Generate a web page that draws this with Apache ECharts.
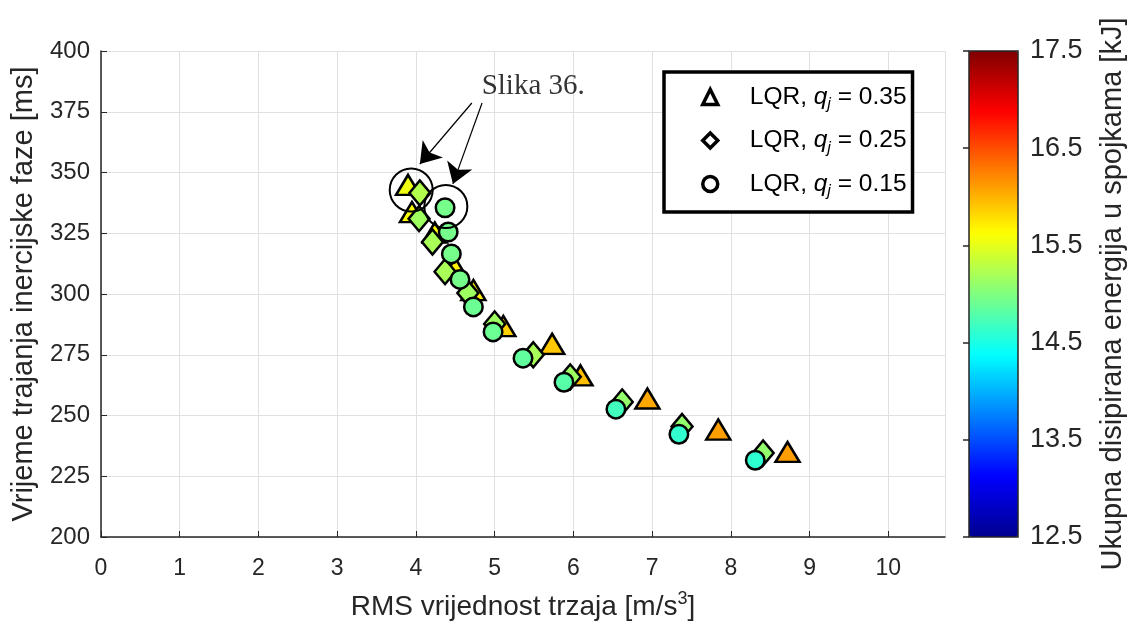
<!DOCTYPE html>
<html><head><meta charset="utf-8">
<script src="https://cdn.jsdelivr.net/npm/echarts@6/dist/echarts.min.js"></script>
<style>html,body{margin:0;padding:0;background:#fff}#c{width:1131px;height:624px}</style>
</head><body><div id="c"></div>
<script>
// ---- data ----
const seriesNames = ['LQR, qj = 0.35', 'LQR, qj = 0.25', 'LQR, qj = 0.15'];
const qVals = ['0.35', '0.25', '0.15'];

// q_j = 0.35 (triangles)
const triX = [3.90, 3.95, 4.24, 4.50, 4.73, 5.11, 5.73, 6.09, 6.94, 7.84, 8.72];
const triY = [344.9, 333.7, 325.3, 310.7, 301.6, 286.8, 279.5, 266.5, 257.0, 244.2, 235.0];
const triE = [15.55, 15.6, 15.65, 15.7, 15.7, 15.85, 15.9, 15.95, 16.05, 16.1, 16.1];

// q_j = 0.25 (diamonds)
const diaX = [4.05, 4.04, 4.21, 4.37, 4.66, 5.00, 5.49, 5.96, 6.62, 7.38, 8.41];
const diaY = [341.6, 331.0, 321.4, 309.2, 300.4, 287.7, 275.0, 265.9, 255.6, 245.5, 234.6];
const diaE = [15.25, 15.15, 15.2, 15.2, 15.15, 15.15, 15.2, 15.15, 15.1, 15.1, 15.1];

// q_j = 0.15 (circles)
const cirX = [4.37, 4.41, 4.45, 4.56, 4.73, 4.98, 5.36, 5.88, 6.54, 7.34, 8.31];
const cirY = [335.5, 325.5, 316.5, 306.0, 294.7, 284.4, 273.6, 263.7, 252.6, 242.3, 231.6];
const cirE = [14.95, 14.95, 14.95, 14.95, 14.9, 14.9, 14.85, 14.8, 14.7, 14.62, 14.6];

// axes / tick labels
const xMin = 0, xMax = 10.72, xStep = 1;
const yMin = 200, yMax = 400, yStep = 25;
const cbTicks = ['12.5', '13.5', '14.5', '15.5', '16.5', '17.5'];
const cbMin = 12.5, cbMax = 17.5;

// annotation (data coordinates)
const ringX = [3.94, 4.38];
const ringY = [342.8, 336.0];
const noteText = 'Slika 36.';
const noteX = [5.49], noteY = [385.6];
const arrowFromX = [4.71, 4.84], arrowFromY = [378.6, 378.6];
const arrowToX = [4.05, 4.47], arrowToY = [353.5, 345.3];

// ---- chart ----
const FONT = '"Liberation Sans", Arial, Helvetica, sans-serif';
const TXT = '#262626';
const jet = ['#00008f', '#0000ff', '#0080ff', '#00ffff', '#80ff80', '#ffff00', '#ff8000', '#ff0000', '#800000'];

const pts = (xs, ys, es) => xs.map((x, i) => [x, ys[i], es[i]]);

const chart = echarts.init(document.getElementById('c'), null, {renderer: 'canvas'});
const markerStyle = {borderColor: '#000', borderWidth: 2.5, opacity: 1};

const option = {
  animation: false,
  backgroundColor: '#fff',
  grid: [
    {left: 101, top: 51, width: 844, height: 486, outerBoundsMode: 'none', containLabel: false},
    {left: 969, top: 51, width: 49, height: 486, outerBoundsMode: 'none', containLabel: false,
     show: true, borderColor: TXT, borderWidth: 1.5, backgroundColor: 'transparent', z: 5}
  ],
  xAxis: [
    {gridIndex: 0, type: 'value', min: xMin, max: xMax, interval: xStep,
     axisLine: {show: true, onZero: false, lineStyle: {color: TXT, width: 1.5}},
     axisTick: {show: true, inside: true, length: 6, lineStyle: {color: TXT, width: 1}},
     axisLabel: {margin: 20, fontSize: 23, fontFamily: FONT, color: TXT, showMaxLabel: false},
     splitLine: {show: true, lineStyle: {color: '#e0e0e0', width: 1}},
     name: 'RMS vrijednost trzaja [m/s{sup|3}]', nameLocation: 'middle', nameGap: 53,
     nameTextStyle: {fontSize: 28, fontFamily: FONT, color: TXT, lineHeight: 34,
       rich: {sup: {fontSize: 18, lineHeight: 18, verticalAlign: 'top', fontFamily: FONT, color: TXT}}}},
    {gridIndex: 1, type: 'value', min: 0, max: 1, show: false}
  ],
  yAxis: [
    {gridIndex: 0, type: 'value', min: yMin, max: yMax, interval: yStep,
     axisLine: {show: true, onZero: false, lineStyle: {color: TXT, width: 1.5}},
     axisTick: {show: true, inside: true, length: 6, lineStyle: {color: TXT, width: 1}},
     axisLabel: {margin: 11, fontSize: 24, fontFamily: FONT, color: TXT},
     splitLine: {show: true, lineStyle: {color: '#e0e0e0', width: 1}},
     name: 'Vrijeme trajanja inercijske faze [ms]', nameLocation: 'middle', nameGap: 55,
     nameTextStyle: {fontSize: 29, fontFamily: FONT, color: TXT, lineHeight: 30}},
    {gridIndex: 1, type: 'value', min: 0, max: cbTicks.length - 1, interval: 1, position: 'right', z: 6,
     axisLine: {show: false},
     axisTick: {show: true, inside: true, length: 6, lineStyle: {color: TXT, width: 1.5}},
     axisLabel: {margin: 12, fontSize: 27, fontFamily: FONT, color: TXT, formatter: (v) => cbTicks[Math.round(v)]},
     splitLine: {show: false},
     name: 'Ukupna disipirana energija u spojkama [kJ]', nameLocation: 'middle', nameGap: 80, nameRotate: 90,
     nameTextStyle: {fontSize: 29, fontFamily: FONT, color: TXT, lineHeight: 30}}
  ],
  visualMap: {
    type: 'continuous', min: cbMin, max: cbMax, dimension: 2, seriesIndex: [0, 1, 2],
    left: 969, top: 51, itemWidth: 49, itemHeight: 486, padding: 0,
    calculable: false, hoverLink: false, z: 1,
    inRange: {color: jet}
  },
  legend: {
    orient: 'vertical', left: 664, top: 72, padding: [9, 6, 12, 37], itemGap: 11.5,
    itemWidth: 15, itemHeight: 15, selectedMode: false,
    backgroundColor: '#fff', borderColor: '#000', borderWidth: 3.5,
    data: [
      {name: seriesNames[0], icon: 'triangle', itemStyle: {color: '#fff', borderColor: '#000', borderWidth: 3.5}},
      {name: seriesNames[1], icon: 'diamond', itemStyle: {color: '#fff', borderColor: '#000', borderWidth: 3.5}},
      {name: seriesNames[2], icon: 'circle', itemStyle: {color: '#fff', borderColor: '#000', borderWidth: 3.5}}
    ],
    formatter: (name) => '{g| }LQR, {q|q}{j|j}{t| = ' + qVals[seriesNames.indexOf(name)] + '}',
    textStyle: {fontSize: 24.5, fontFamily: FONT, color: '#000', lineHeight: 32,
      rich: {
        g: {width: 27},
        q: {fontStyle: 'italic', fontSize: 24.5, lineHeight: 32},
        j: {fontStyle: 'italic', fontSize: 16, lineHeight: 16, verticalAlign: 'bottom'},
        t: {fontSize: 24.5, lineHeight: 32}
      }}
  },
  series: [
    {name: seriesNames[0], type: 'scatter', xAxisIndex: 0, yAxisIndex: 0, symbol: 'triangle', symbolSize: [24, 20],
     itemStyle: markerStyle, data: pts(triX, triY, triE)},
    {name: seriesNames[1], type: 'scatter', xAxisIndex: 0, yAxisIndex: 0, symbol: 'diamond', symbolSize: [21, 25],
     itemStyle: markerStyle, data: pts(diaX, diaY, diaE)},
    {name: seriesNames[2], type: 'scatter', xAxisIndex: 0, yAxisIndex: 0, symbol: 'circle', symbolSize: 18.5,
     itemStyle: markerStyle, data: pts(cirX, cirY, cirE)},
    {name: 'rings', type: 'scatter', xAxisIndex: 0, yAxisIndex: 0, symbol: 'circle', symbolSize: 43, silent: true,
     itemStyle: {color: 'rgba(0,0,0,0)', borderColor: '#000', borderWidth: 2, opacity: 1},
     data: ringX.map((x, i) => [x, ringY[i]]),
     markLine: {silent: true, symbol: ['none', 'arrow'], symbolSize: 20, animation: false,
       lineStyle: {color: '#000', width: 1.2, type: 'solid', opacity: 1}, label: {show: false},
       data: arrowFromX.map((x, i) => [{coord: [x, arrowFromY[i]]}, {coord: [arrowToX[i], arrowToY[i]]}])}},
    {name: 'note', type: 'scatter', xAxisIndex: 0, yAxisIndex: 0, symbolSize: 1, silent: true,
     itemStyle: {color: 'rgba(0,0,0,0)'},
     label: {show: true, position: 'inside', formatter: noteText,
       fontFamily: '"Liberation Serif", "Times New Roman", serif', fontSize: 29, color: '#000'},
     data: noteX.map((x, i) => [x, noteY[i]])}
  ]
};
chart.setOption(option);
</script>
</body></html>
